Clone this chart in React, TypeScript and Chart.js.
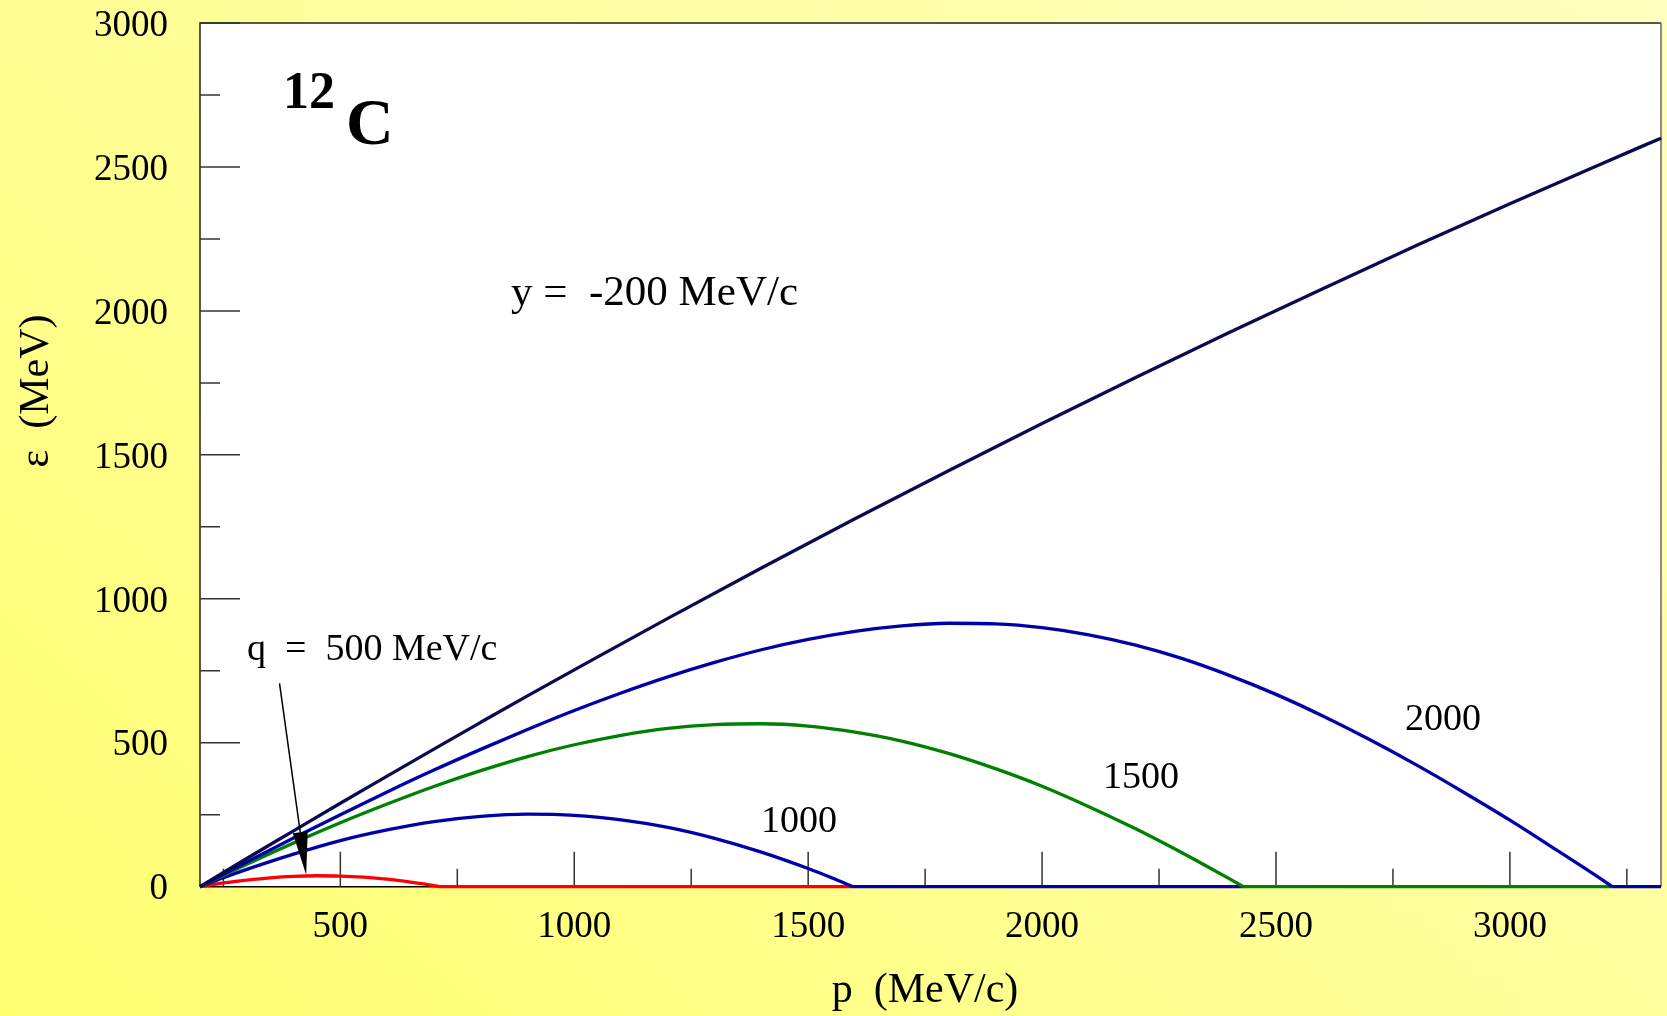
import React, { useEffect, useRef } from "react";
import { Chart, registerables } from "chart.js";

Chart.register(...registerables);

// ---- axis ranges & ticks ----
const X_MIN = 200;
const X_MAX = 3323;
const Y_MIN = 0;
const Y_MAX = 3000;
const xMajorTicks = [500, 1000, 1500, 2000, 2500, 3000];
const xMinorTicks = [250, 750, 1250, 1750, 2250, 2750, 3250];
const yMajorTicks = [500, 1000, 1500, 2000, 2500, 3000];
const yMinorTicks = [250, 750, 1250, 1750, 2250, 2750];

// ---- data: p (MeV/c) and epsilon (MeV) ----
const pEnvelope = [200, 300, 400, 500, 600, 700, 800, 900, 1000, 1200, 1400, 1600, 1800, 2000, 2200, 2400, 2600, 2800, 3000, 3200, 3323];
const eEnvelope = [0, 98, 194, 290, 384, 478, 571, 663, 753, 932, 1107, 1278, 1445, 1609, 1769, 1925, 2077, 2227, 2372, 2514, 2600];

const pQ500 = [200, 250, 300, 350, 400, 450, 500, 550, 600, 650, 700, 713];
const eQ500 = [0, 13, 23, 31, 36, 38, 37, 33, 26, 16, 4, 0];

const pQ1000 = [200, 250, 300, 400, 500, 600, 700, 800, 900, 1000, 1100, 1200, 1300, 1400, 1500, 1550, 1596];
const eQ1000 = [0, 31, 60, 113, 160, 197, 226, 244, 252, 248, 232, 206, 168, 120, 63, 31, 0];

const pQ1500 = [200, 250, 300, 400, 500, 600, 700, 800, 900, 1000, 1100, 1200, 1300, 1400, 1500, 1600, 1700, 1800, 1900, 2000, 2100, 2200, 2300, 2350, 2400, 2430];
const eQ1500 = [0, 39, 78, 152, 222, 287, 348, 403, 452, 493, 526, 550, 563, 566, 558, 537, 506, 463, 410, 349, 278, 201, 117, 73, 28, 0];

const pQ2000 = [200, 250, 300, 400, 500, 600, 700, 800, 900, 1000, 1100, 1200, 1300, 1400, 1500, 1600, 1700, 1800, 1900, 2000, 2100, 2200, 2300, 2400, 2500, 2600, 2700, 2800, 2900, 3000, 3100, 3200, 3219];
const eQ2000 = [0, 43, 86, 169, 250, 329, 405, 477, 546, 612, 673, 729, 779, 823, 859, 887, 906, 915, 913, 900, 875, 839, 792, 734, 668, 593, 511, 423, 329, 231, 127, 21, 0];

// where each q-curve reaches epsilon = 0 (q = 500, 1000, 1500, 2000)
const zeroCrossings = [713, 1596, 2430, 3219];

const qValues = ["500", "1000", "1500", "2000"];
const curveColors = ["#ff0000", "#0000a8", "#008000", "#0000a8"];
const envelopeColor = "#0a0a50";

const FONT = "'Liberation Serif', 'Times New Roman', serif";
const LINE_W = 3.3;

function pts(ps: number[], es: number[]) {
  return ps.map((p, i) => ({ x: p, y: es[i] }));
}

function zeroPad(s: any) {
  s.paddingTop = 0;
  s.paddingBottom = 0;
  s.paddingLeft = 0;
  s.paddingRight = 0;
}

export default function App() {
  const ref = useRef<HTMLCanvasElement | null>(null);

  useEffect(() => {
    document.body.style.margin = "0";
    const canvas = ref.current;
    if (!canvas) return;

    const curves = [
      { p: pQ500, e: eQ500 },
      { p: pQ1000, e: eQ1000 },
      { p: pQ1500, e: eQ1500 },
      { p: pQ2000, e: eQ2000 },
    ];

    const datasets: any[] = [];
    datasets.push({
      label: "envelope",
      data: pts(pEnvelope, eEnvelope),
      borderColor: envelopeColor,
      borderWidth: LINE_W,
      pointRadius: 0,
      cubicInterpolationMode: "monotone",
      fill: false,
      order: 0,
      clip: false,
    });
    curves.forEach((c, i) => {
      datasets.push({
        label: "q = " + qValues[i],
        data: pts(c.p, c.e),
        borderColor: curveColors[i],
        borderWidth: LINE_W,
        pointRadius: 0,
        cubicInterpolationMode: "monotone",
        fill: false,
        order: 1 + (3 - i),
        clip: false,
      });
      const start = zeroCrossings[i];
      const end = i + 1 < zeroCrossings.length ? zeroCrossings[i + 1] : X_MAX;
      datasets.push({
        label: "q = " + qValues[i] + " (zero)",
        data: [
          { x: start, y: 0 },
          { x: end, y: 0 },
        ],
        borderColor: curveColors[i],
        borderWidth: LINE_W,
        pointRadius: 0,
        fill: false,
        order: 1 + (3 - i),
        clip: false,
      });
    });

    const decorPlugin = {
      id: "decor",
      beforeDraw(chart: any) {
        const { ctx, chartArea: a, width, height } = chart;
        ctx.save();
        const g = ctx.createLinearGradient(0, height, 1164, -413);
        g.addColorStop(0, "#ffff72");
        g.addColorStop(1, "#ffffc0");
        ctx.fillStyle = g;
        ctx.fillRect(0, 0, width, height);
        ctx.fillStyle = "#ffffff";
        ctx.fillRect(a.left, a.top, a.right - a.left, a.bottom - a.top);
        ctx.restore();
      },
      beforeDatasetsDraw(chart: any) {
        const { ctx, chartArea: a, scales } = chart;
        const xs = scales.x;
        const ys = scales.y;
        ctx.save();
        ctx.lineWidth = 1.5;
        ctx.strokeStyle = "#222";
        ctx.beginPath();
        ctx.moveTo(a.left, a.bottom);
        ctx.lineTo(a.left, a.top);
        ctx.lineTo(a.right, a.top);
        ctx.stroke();
        ctx.strokeStyle = "#666";
        ctx.beginPath();
        ctx.moveTo(a.right, a.top);
        ctx.lineTo(a.right, a.bottom);
        ctx.stroke();
        ctx.strokeStyle = "#000";
        ctx.beginPath();
        ctx.moveTo(a.left, a.bottom);
        ctx.lineTo(a.right, a.bottom);
        ctx.stroke();
        // inward ticks
        ctx.strokeStyle = "#333";
        ctx.beginPath();
        yMajorTicks.forEach((v) => {
          const y = ys.getPixelForValue(v);
          ctx.moveTo(a.left, y);
          ctx.lineTo(a.left + 40, y);
        });
        yMinorTicks.forEach((v) => {
          const y = ys.getPixelForValue(v);
          ctx.moveTo(a.left, y);
          ctx.lineTo(a.left + 20, y);
        });
        xMajorTicks.forEach((v) => {
          const x = xs.getPixelForValue(v);
          ctx.moveTo(x, a.bottom);
          ctx.lineTo(x, a.bottom - 35);
        });
        xMinorTicks.forEach((v) => {
          const x = xs.getPixelForValue(v);
          ctx.moveTo(x, a.bottom);
          ctx.lineTo(x, a.bottom - 18);
        });
        ctx.stroke();
        ctx.restore();
      },
      afterDatasetsDraw(chart: any) {
        const { ctx, scales, chartArea: a } = chart;
        const xs = scales.x;
        const ys = scales.y;
        ctx.save();
        ctx.fillStyle = "#000";
        ctx.textBaseline = "alphabetic";

        // x tick labels
        ctx.font = "37px " + FONT;
        ctx.textAlign = "center";
        xMajorTicks.forEach((v) => {
          ctx.fillText(String(v), xs.getPixelForValue(v), a.bottom + 50);
        });

        ctx.textAlign = "left";
        // nucleus label 12C
        ctx.font = "bold 52px " + FONT;
        ctx.fillText("12", 283, 108);
        ctx.font = "bold 66px " + FONT;
        ctx.fillText("C", 346, 144);

        ctx.font = "43px " + FONT;
        ctx.fillText("y =  -200 MeV/c", 511, 305);
        ctx.font = "38px " + FONT;
        ctx.fillText("q  =  500 MeV/c", 247, 660);
        ctx.fillText(qValues[1], 761, 832);
        ctx.fillText(qValues[2], 1103, 788);
        ctx.fillText(qValues[3], 1405, 730);

        // arrow to the q = 500 curve
        const tailX = xs.getPixelForValue(370);
        const tailY = ys.getPixelForValue(706);
        const tipX = xs.getPixelForValue(427);
        const tipY = ys.getPixelForValue(41);
        const dx = tipX - tailX;
        const dy = tipY - tailY;
        const len = Math.hypot(dx, dy);
        const ux = dx / len;
        const uy = dy / len;
        const headLen = 43;
        const headHalf = 7.5;
        const bx = tipX - ux * headLen;
        const by = tipY - uy * headLen;
        ctx.strokeStyle = "#000";
        ctx.lineWidth = 1.5;
        ctx.beginPath();
        ctx.moveTo(tailX, tailY);
        ctx.lineTo(bx, by);
        ctx.stroke();
        ctx.beginPath();
        ctx.moveTo(tipX, tipY);
        ctx.lineTo(bx - uy * headHalf, by + ux * headHalf);
        ctx.lineTo(bx + uy * headHalf, by - ux * headHalf);
        ctx.closePath();
        ctx.fill();

        // axis titles
        ctx.font = "42px " + FONT;
        ctx.textAlign = "center";
        ctx.fillText("p  (MeV/c)", 925, 1002);
        ctx.save();
        ctx.translate(37, 391);
        ctx.rotate(-Math.PI / 2);
        ctx.textBaseline = "middle";
        ctx.fillText("\u03b5  (MeV)", 0, 0);
        ctx.restore();
        ctx.restore();
      },
    };

    const chart = new Chart(canvas, {
      type: "line",
      data: { datasets },
      options: {
        animation: false,
        responsive: false,
        maintainAspectRatio: false,
        events: [],
        layout: { padding: { left: 0, top: 23, right: 6, bottom: 0 } },
        plugins: {
          legend: { display: false },
          tooltip: { enabled: false },
          title: { display: false },
        },
        scales: {
          x: {
            type: "linear",
            min: X_MIN,
            max: X_MAX,
            afterFit: (s: any) => {
              s.height = 129.3;
              zeroPad(s);
            },
            grid: { display: false, drawTicks: false },
            border: { display: false },
            ticks: { display: false, stepSize: 500 },
          },
          y: {
            type: "linear",
            min: Y_MIN,
            max: Y_MAX,
            afterFit: (s: any) => {
              s.width = 200;
              zeroPad(s);
            },
            grid: { display: false, drawTicks: false },
            border: { display: false },
            ticks: {
              stepSize: 500,
              autoSkip: false,
              padding: 32,
              labelOffset: 3,
              color: "#000",
              font: { family: FONT, size: 37 },
              callback: (v: any) => String(v),
            },
          },
        },
      },
      plugins: [decorPlugin],
    } as any);

    return () => {
      chart.destroy();
    };
  }, []);

  return (
    <div style={{ position: "absolute", left: 0, top: 0, width: 1667, height: 1016 }}>
      <canvas ref={ref} width={1667} height={1016} style={{ display: "block", width: 1667, height: 1016 }} />
    </div>
  );
}
